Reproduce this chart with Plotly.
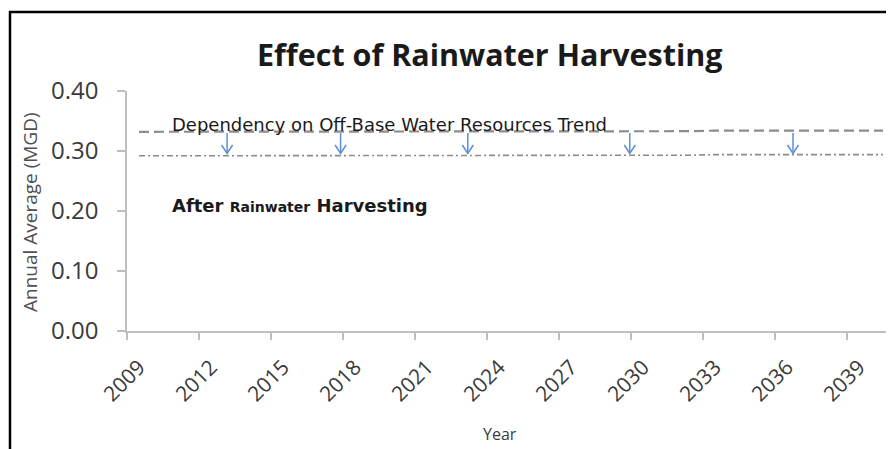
import plotly.graph_objects as go

years = list(range(2009, 2041))
dependency = [0.332, 0.332, 0.332, 0.332, 0.332, 0.332, 0.332, 0.332,
              0.333, 0.333, 0.333, 0.333, 0.333, 0.333, 0.333, 0.333,
              0.333, 0.333, 0.333, 0.333, 0.333, 0.333, 0.333, 0.333,
              0.334, 0.334, 0.334, 0.334, 0.334, 0.334, 0.334, 0.334]
after_rwh = [0.292, 0.292, 0.292, 0.292, 0.292, 0.292, 0.292, 0.292,
             0.293, 0.293, 0.293, 0.293, 0.293, 0.293, 0.293, 0.293,
             0.293, 0.293, 0.293, 0.293, 0.293, 0.293, 0.293, 0.293,
             0.294, 0.294, 0.294, 0.294, 0.294, 0.294, 0.294, 0.294]
arrow_years = [2012.67, 2017.4, 2022.7, 2029.45, 2036.25]
arrow_top = 0.330
arrow_tip = 0.296
label_years = list(range(2009, 2040, 3))
y_ticks = [0.0, 0.1, 0.2, 0.3, 0.4]

# page body has an 8px default margin; figure sized to fit the 894x449 window
OFF = 8
W, H = 894 - OFF, 449 - OFF
L, T, PW, PH = 127 - OFF, 91 - OFF, 762, 240
R, B = W - L - PW, H - T - PH


def px(xw, yw):
    """window pixel -> plot-paper coordinates"""
    return (xw - OFF - L) / PW, 1 - (yw - OFF - T) / PH


fig = go.Figure()
fig.add_trace(go.Scatter(x=years, y=dependency, mode="lines",
                         line=dict(color="#8c8c8c", width=2.2, dash="10px,5px"),
                         hoverinfo="skip", showlegend=False))
fig.add_trace(go.Scatter(x=years, y=after_rwh, mode="lines",
                         line=dict(color="#8c8c8c", width=1.6, dash="6px,3px,2px,3px"),
                         hoverinfo="skip", showlegend=False))

# open-V down arrows
ax, ay = [], []
for xa in arrow_years:
    ax += [xa, xa, None, xa - 0.23, xa, xa + 0.23, None]
    ay += [arrow_top, arrow_tip, None, arrow_tip + 0.014, arrow_tip, arrow_tip + 0.014, None]
fig.add_trace(go.Scatter(x=ax, y=ay, mode="lines",
                         line=dict(color="#5b8fd3", width=1.5),
                         hoverinfo="skip", showlegend=False))

axis_grey = "#bfbfbf"
text_grey = "#3a3a3a"
fx0, fy1 = px(10, 12)
tx, ty = px(490, 54)
ytx, yty = px(30, 212)
xtx, xty = px(500, 434)
fig.update_layout(
    width=W, height=H,
    margin=dict(l=L, r=R, t=T, b=B, autoexpand=False),
    paper_bgcolor="white", plot_bgcolor="white",
    xaxis=dict(range=[2008.5, 2040.25], tickvals=label_years,
               ticktext=[str(v) for v in label_years],
               tickangle=-45, ticks="", ticklen=0, automargin=False,
               ticklabelstandoff=14,
               tickfont=dict(family="Open Sans", size=21, color=text_grey),
               showline=True, linecolor=axis_grey, linewidth=1.5,
               showgrid=False, zeroline=False,
               minor=dict(tick0=2008.5, dtick=3, ticks="outside", ticklen=7,
                          tickcolor=axis_grey, tickwidth=1.5, showgrid=False)),
    yaxis=dict(range=[0, 0.4], tickvals=y_ticks, tickformat=".2f",
               ticks="outside", ticklen=8, tickcolor=axis_grey, tickwidth=1.5,
               automargin=False, ticklabelstandoff=14,
               tickfont=dict(family="Open Sans", size=24, color=text_grey),
               showline=True, linecolor=axis_grey, linewidth=1.5,
               showgrid=False, zeroline=False),
    shapes=[dict(type="rect", xref="paper", yref="paper",
                 x0=fx0, x1=1.2, y0=-1.0, y1=fy1,
                 line=dict(color="black", width=2.5), fillcolor="rgba(0,0,0,0)")],
    annotations=[
        dict(x=tx, y=ty, xref="paper", yref="paper", xanchor="center", yanchor="middle",
             showarrow=False, text="<b>Effect of Rainwater Harvesting</b>",
             font=dict(family="Open Sans", size=30.5, color="#1a1a1a")),
        dict(x=2010.3, y=0.333, xref="x", yref="y", xanchor="left", yanchor="bottom",
             yshift=-6, showarrow=False,
             text="Dependency on Off-Base Water Resources Trend",
             font=dict(family="DejaVu Sans", size=18, color="#1a1a1a")),
        dict(x=2010.3, y=0.21, xref="x", yref="y", xanchor="left", yanchor="middle",
             showarrow=False,
             text="<b>After <span style='font-size:14px'>Rainwater</span> Harvesting</b>",
             font=dict(family="DejaVu Sans", size=18, color="#1a1a1a")),
        dict(x=ytx, y=yty, xref="paper", yref="paper",
             xanchor="center", yanchor="middle", textangle=-90, showarrow=False,
             text="Annual Average (MGD)",
             font=dict(family="Open Sans", size=19, color="#505050")),
        dict(x=xtx, y=xty, xref="paper", yref="paper",
             xanchor="center", yanchor="middle", showarrow=False,
             text="Year",
             font=dict(family="Open Sans", size=16, color=text_grey)),
    ],
)

fig.write_html("out.html")
